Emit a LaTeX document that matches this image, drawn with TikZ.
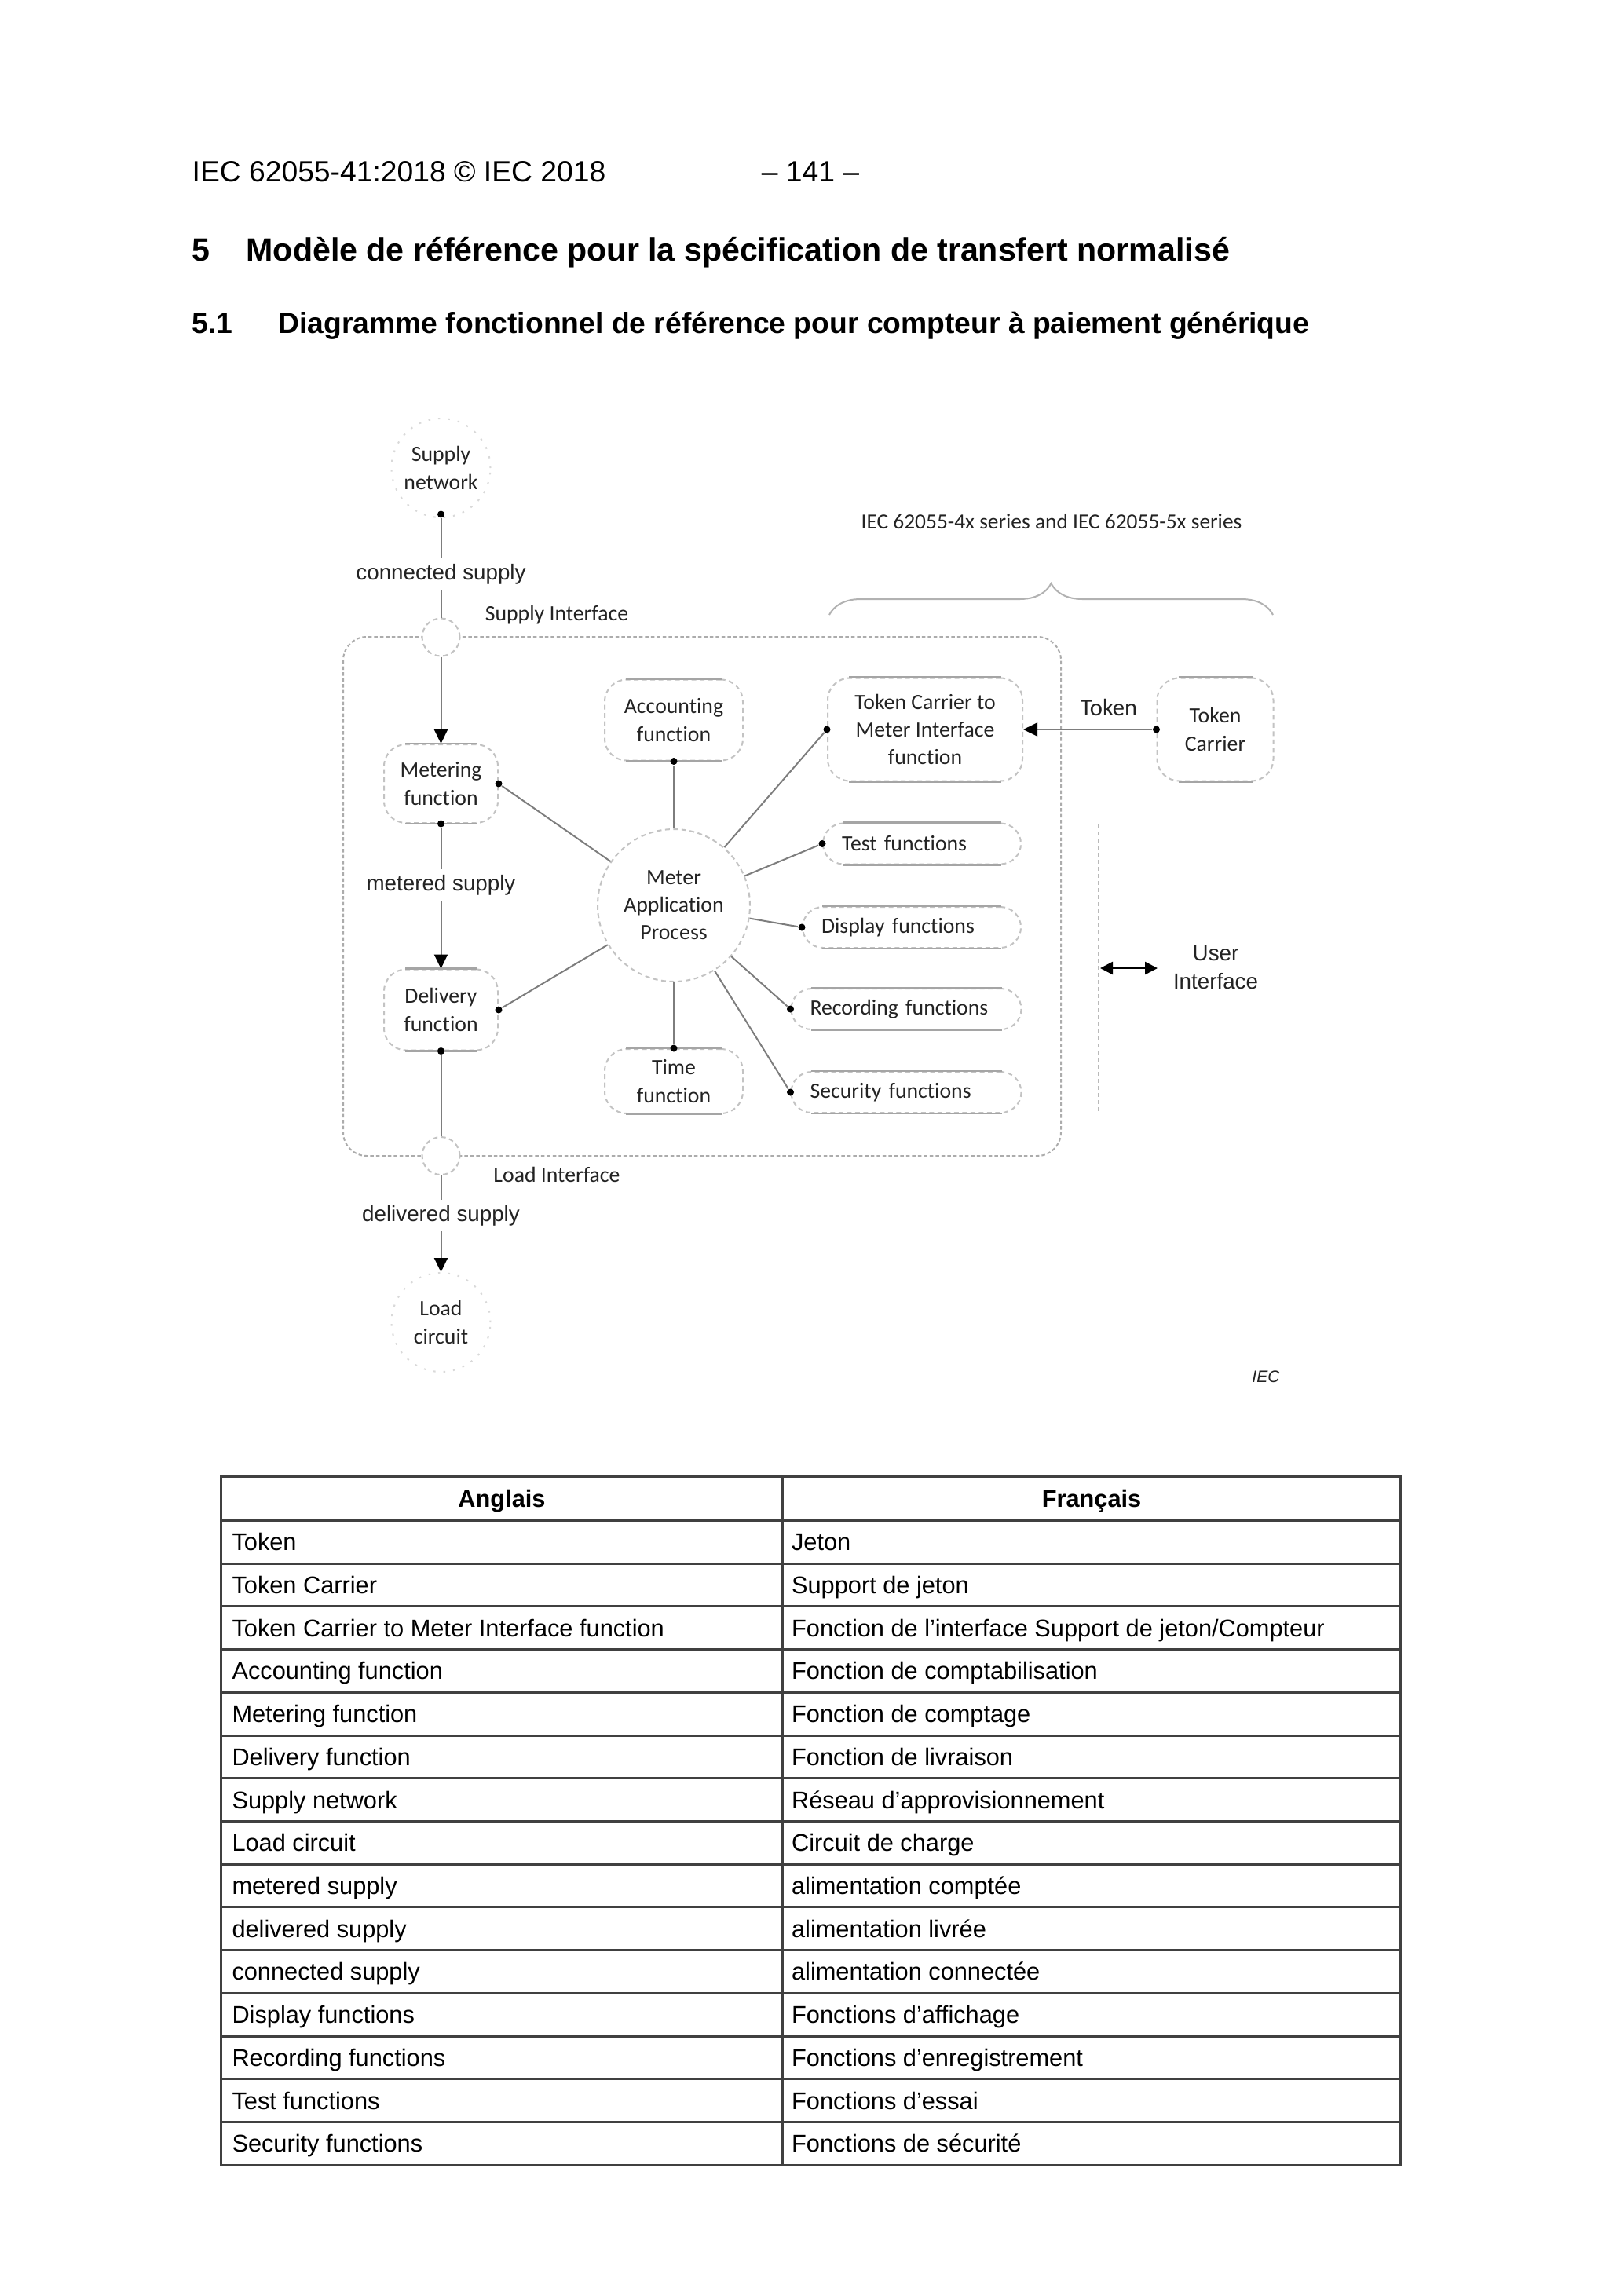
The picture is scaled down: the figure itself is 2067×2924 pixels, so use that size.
\documentclass[tikz,border=0pt]{standalone}
\usepackage{fontspec}
\setmainfont{Liberation Sans}
\newfontfamily\calibri[Ligatures=NoCommon]{Carlito}
\usetikzlibrary{positioning, arrows.meta, decorations.pathreplacing}
\definecolor{LineGray}{RGB}{125,125,125}
\definecolor{DashGray}{RGB}{195,195,195}
\definecolor{EdgeGray}{RGB}{165,165,165}
\definecolor{TextGray}{RGB}{35,35,35}

\tikzset{
  fnbox/.style={draw=DashGray, dash pattern=on 0.6mm off 0.45mm, line width=0.2mm,
    rounded corners=2.8mm, align=center, inner sep=0pt,
    font=\calibri\fontsize{7.9}{10}\selectfont, text=TextGray},
  pill/.style={fnbox, rounded corners=2.6mm, minimum height=5.2mm, align=left, inner xsep=2.4mm},
  blob/.style={circle, draw=DashGray, dash pattern=on 0.6mm off 0.45mm, line width=0.2mm,
    fill=white, inner sep=0pt, align=center,
    font=\calibri\fontsize{7.9}{10}\selectfont, text=TextGray},
  endblob/.style={blob, draw=gray!30, dash pattern=on 0.25mm off 1mm},
  jdot/.style={circle, fill=black, inner sep=0pt, minimum size=0.9mm},
  conn/.style={draw=LineGray, line width=0.2mm},
  flow/.style={conn, -{Triangle[length=1.8mm, width=1.7mm, color=black]}},
  lbl/.style={fill=white, inner sep=0.7mm, font=\fontsize{7.9}{10}\selectfont, text=TextGray},
  caltext/.style={inner sep=0pt, font=\calibri\fontsize{7.9}{10}\selectfont, text=TextGray},
  edgeline/.style={draw=EdgeGray, line width=0.25mm},
  tblline/.style={draw=black!75, line width=0.3mm},
  tbltext/.style={anchor=base west, inner sep=0pt, font=\fontsize{8.75}{10}\selectfont},
  pagetext/.style={anchor=base west, inner sep=0pt},
}

\begin{document}
\begin{tikzpicture}[x=0.1mm, y=-0.1mm]
    \path[use as bounding box, fill=white] (0,0) rectangle (2067,2924);

    % Page header and headings
    \node[pagetext, font=\fontsize{10.6}{12}\selectfont] (pghead) at (244,231) {IEC 62055-41:2018 © IEC 2018};
    \node[pagetext, anchor=base, font=\fontsize{10.6}{12}\selectfont] (pgnum) at (1032,231) {– 141 –};
    \node[pagetext, font=\bfseries\fontsize{11.7}{14}\selectfont] (secnum) at (244,332) {5};
    \node[pagetext, font=\bfseries\fontsize{11.7}{14}\selectfont] (sectitle) at (313,332) {Modèle de référence pour la spécification de transfert normalisé};
    \node[pagetext, font=\bfseries\fontsize{10.6}{13}\selectfont] (subnum) at (244,424) {5.1};
    \node[pagetext, font=\bfseries\fontsize{10.6}{13}\selectfont] (subtitle) at (354,424) {Diagramme fonctionnel de référence pour compteur à paiement générique};

    % Meter boundary
    \draw[draw=gray!65, line width=0.2mm, dash pattern=on 0.45mm off 0.3mm, rounded corners=3mm] (437,811) rectangle (1351,1472);

    % Supply side
    \node[endblob, minimum size=12.6mm] (sn) at (561.5,596) {Supply\\network};
    \node[jdot] (sndot) at (561.5,655) {};
    \node[blob, minimum size=4.8mm] (supif) at (561.5,811.5) {};
    \node[caltext] (supiflbl) at (709,783.5) {Supply Interface};

    % Functions
    \node[fnbox, minimum width=14.5mm, minimum height=10mm] (met) at (561.5,998) {Metering\\function};
    \node[fnbox, minimum width=14.5mm, minimum height=10.3mm] (del) at (561.5,1286) {Delivery\\function};
    \node[fnbox, minimum width=17.6mm, minimum height=10.3mm] (acc) at (858,917) {Accounting\\function};
    \node[fnbox, minimum width=17.6mm, minimum height=8.2mm] (tim) at (858,1377) {Time\\function};
    \node[fnbox, minimum width=24.8mm, minimum height=13.1mm] (tcmi) at (1178,929) {Token Carrier to\\Meter Interface\\function};
    \node[fnbox, minimum width=14.8mm, minimum height=13.1mm] (tc) at (1547.5,929) {Token\\Carrier};
    \node[blob, minimum size=19.4mm] (map) at (858,1153) {Meter\\Application\\Process};
    \node[pill, text width=20.4mm] (test) at (1174,1074.5) {Test functions};
    \node[pill, text width=23mm] (disp) at (1161,1181) {Display functions};
    \node[pill, text width=24.5mm] (rec) at (1154,1285) {Recording functions};
    \node[pill, text width=24.5mm] (sec) at (1154,1391) {Security functions};

    % Solid top and bottom edges
    \foreach \b/\r in {met/2.8mm, del/2.8mm, acc/2.8mm, tim/2.8mm, tcmi/2.8mm, tc/2.8mm,
                       test/2.6mm, disp/2.6mm, rec/2.6mm, sec/2.6mm} {
      \draw[edgeline] ([xshift=\r]\b.north west) -- ([xshift=-\r]\b.north east);
      \draw[edgeline] ([xshift=\r]\b.south west) -- ([xshift=-\r]\b.south east);
    }

    % Connection dots
    \node[jdot] (metE) at (met.east) {};
    \node[jdot] (metS) at (met.south) {};
    \node[jdot] (delE) at (del.east) {};
    \node[jdot] (delS) at (del.south) {};
    \node[jdot] (accS) at (acc.south) {};
    \node[jdot] (timN) at (tim.north) {};
    \node[jdot] (tcmiW) at (tcmi.west) {};
    \node[jdot] (tcW) at (tc.west) {};
    \node[jdot] (testW) at (test.west) {};
    \node[jdot] (dispW) at (disp.west) {};
    \node[jdot] (recW) at (rec.west) {};
    \node[jdot] (secW) at (sec.west) {};

    % Links to the application process
    \foreach \d in {metE, delE, accS, timN, tcmiW, testW, dispW, recW, secW}
      \draw[conn] (map) -- (\d);

    % Load side
    \node[blob, minimum size=4.8mm] (loadif) at (561.5,1472) {};
    \node[caltext] (loadiflbl) at (709,1496) {Load Interface};
    \node[endblob, minimum size=12.6mm] (lc) at (561.5,1684) {Load\\circuit};

    % Supply flow
    \draw[conn] (sndot) -- (supif);
    \draw[flow] (supif) -- (met);
    \draw[flow] (metS) -- (del);
    \draw[conn] (delS) -- (loadif);
    \draw[flow] (loadif) -- (lc);
    \node[lbl] (consup) at (561.5,731) {connected supply};
    \node[lbl] (metsup) at (561.5,1127) {metered supply};
    \node[lbl] (delsup) at (561.5,1548) {delivered supply};

    % Token path
    \draw[flow] (tcW) -- (tcmi.east);
    \node[caltext, font=\calibri\fontsize{8.7}{10}\selectfont] (toklbl) at (1412,901) {Token};

    % Standards brace
    \node[caltext, font=\calibri\fontsize{7.8}{10}\selectfont] (series) at (1339,664) {IEC 62055-4x series and IEC 62055-5x series};
    \coordinate (brL) at (1056,783);
    \coordinate (brR) at (1621,783);
    \draw[draw=gray!60, line width=0.2mm, decorate, decoration={brace, amplitude=4mm}] (brL) -- (brR);

    % User interface
    \coordinate (uitop) at (1399,1050);
    \coordinate (uibot) at (1399,1418);
    \draw[draw=gray!55, line width=0.15mm, dash pattern=on 0.5mm off 0.4mm] (uitop) -- (uibot);
    \node[inner sep=0pt, align=center, font=\fontsize{7.9}{10}\selectfont, text=TextGray] (ui) at (1548,1232) {User\\Interface};
    \coordinate (uiL) at (1401,1233);
    \coordinate (uiR) at (1474,1233);
    \draw[line width=0.25mm, {Triangle[length=1.6mm, width=1.6mm]}-{Triangle[length=1.6mm, width=1.6mm]}] (uiL) -- (uiR);

    \node[inner sep=0pt, font=\itshape\fontsize{6}{7}\selectfont, text=TextGray] (ieclogo) at (1612,1753) {IEC};

    % Glossary table
    \draw[tblline] (281.7,1880.4) rectangle (1783.4,2757.2);
    \draw[tblline] (996.2,1880.4) -- (996.2,2757.2);
    \foreach \k in {0,...,14}
      \draw[tblline] (281.7,1936.4+54.72*\k) -- (1783.4,1936.4+54.72*\k);
    \node[tbltext, anchor=base, font=\bfseries\fontsize{8.75}{10}\selectfont] (hdEn) at (639,1919.4) {Anglais};
    \node[tbltext, anchor=base, font=\bfseries\fontsize{8.75}{10}\selectfont] (hdFr) at (1390,1919.4) {Français};
    \foreach \en/\fr [count=\i] in {
        Token/Jeton,
        Token Carrier/Support de jeton,
        Token Carrier to Meter Interface function/{Fonction de l’interface Support de jeton/Compteur},
        Accounting function/Fonction de comptabilisation,
        Metering function/Fonction de comptage,
        Delivery function/Fonction de livraison,
        Supply network/Réseau d’approvisionnement,
        Load circuit/Circuit de charge,
        metered supply/alimentation comptée,
        delivered supply/alimentation livrée,
        connected supply/alimentation connectée,
        Display functions/Fonctions d’affichage,
        Recording functions/Fonctions d’enregistrement,
        Test functions/Fonctions d’essai,
        Security functions/Fonctions de sécurité} {
      \node[tbltext] (en\i) at (294.8,1920+54.72*\i) {\en};
      \node[tbltext] (fr\i) at (1007.4,1920+54.72*\i) {\fr};
    }
\end{tikzpicture}
\end{document}
